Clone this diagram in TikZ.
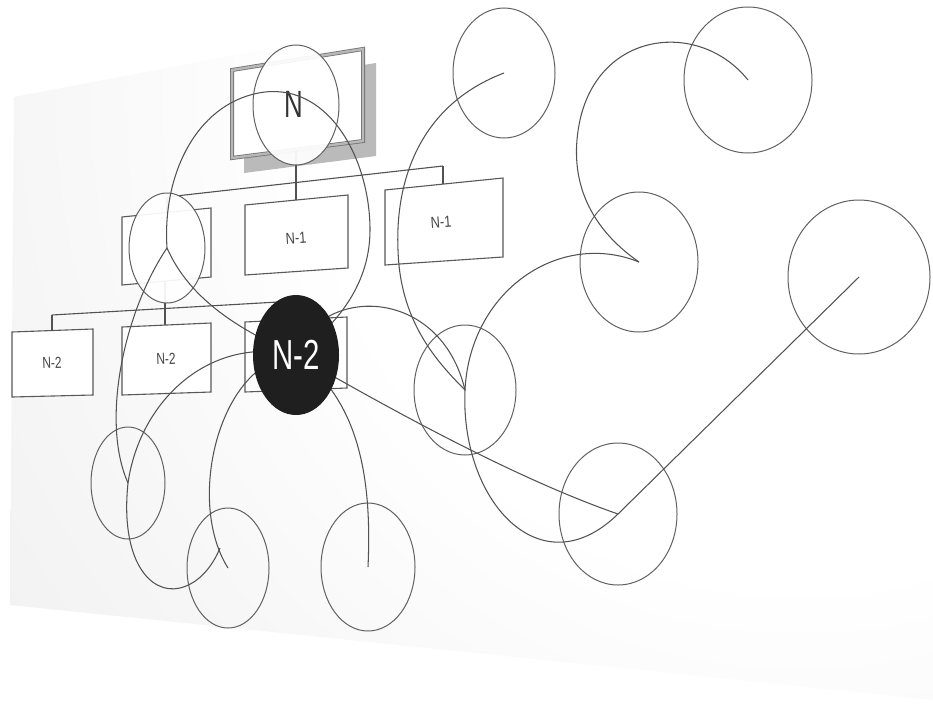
\documentclass[tikz,border=0pt]{standalone}
\usepackage{fontspec}
\setmainfont{Liberation Sans}
\usetikzlibrary{shapes.geometric}
\pgfdeclarelayer{panel}
\pgfdeclarelayer{rings}
\pgfdeclarelayer{links}
\pgfsetlayers{panel,rings,links,main}
\pgfdeclareradialshading{panelshade}{\pgfpointorigin}{color(0bp)=(white); color(12bp)=(white); color(21bp)=(black!4); color(31bp)=(black!8); color(40bp)=(black!10); color(50bp)=(black!13)}
\tikzset{
  ring/.style={ellipse, draw=black!62, line width=1pt, inner sep=0pt},
  boxline/.style={draw=black!65, line width=1.1pt, fill=white},
  bar/.style={draw=black!68, line width=1.1pt},
  link/.style={draw=black!68, line width=1.05pt},
  lbl/.style={text=black!72, font=\fontsize{16}{16}\selectfont, inner sep=0pt},
}
\begin{document}
\begin{tikzpicture}[x=1pt,y=-1pt]
\useasboundingbox (0,0) rectangle (933,704);
\begin{pgfonlayer}{panel}
\fill[white] (0,0) rectangle (933,704);
\begin{scope}
  \clip (14,97) -- (525,0) -- (933,0) -- (933,700) -- (10,605) -- cycle;
  \shade[shading=panelshade] (800,100) circle (1000pt);
\end{scope}
% top box N with shadow
\fill[black!27] (244,84) -- (376,63) -- (376,156) -- (244,173) -- cycle;
\draw[draw=black!55, double=black!28, double distance=2.4pt, line width=0.8pt, fill=white]
  (232,70) -- (363,49) -- (363,141) -- (232,158) -- cycle;
% level 1 boxes
\draw[boxline] (122,217) -- (211,208) -- (211,277) -- (122,285) -- cycle;
\draw[boxline] (245,205) -- (348,195) -- (348,268) -- (245,275) -- cycle;
\draw[boxline] (385,190) -- (503,178) -- (503,257) -- (385,265) -- cycle;
% level 2 boxes
\draw[boxline] (12,332) -- (93,329) -- (93,395) -- (12,397) -- cycle;
\draw[boxline] (122,327) -- (211,323) -- (211,392) -- (122,395) -- cycle;
\draw[boxline] (245,322) -- (347,317) -- (347,388) -- (245,392) -- cycle;
% connection points
\coordinate (nbot) at (296,150);
\coordinate (b1l) at (167,197);
\coordinate (b1r) at (443,166);
\coordinate (l1top) at (167,213);
\coordinate (m1top) at (296,200);
\coordinate (r1top) at (443,184);
\coordinate (l1bot) at (165,281);
\coordinate (b2l) at (52,315);
\coordinate (b2r) at (278,302);
\coordinate (l2top) at (52,331);
\coordinate (m2top) at (165,325);
\coordinate (r2top) at (278,320);
\draw[bar] (b1l) -- (b1r);
\draw[bar] (b1l) -- (l1top);
\draw[bar] (nbot) -- (m1top);
\draw[bar] (b1r) -- (r1top);
\draw[bar] (b2l) -- (b2r);
\draw[bar] (b2l) -- (l2top);
\draw[bar] (l1bot) -- (m2top);
\draw[bar] (b2r) -- (r2top);
% labels
\node[lbl, rotate=4] (t1a) at (296,238) {\scalebox{0.8}[1]{N-1}};
\node[lbl, rotate=4] (t1b) at (441,222) {\scalebox{0.8}[1]{N-1}};
\node[lbl, rotate=2] (t2a) at (52,363) {\scalebox{0.75}[1]{N-2}};
\node[lbl, rotate=2] (t2b) at (166,359) {\scalebox{0.75}[1]{N-2}};
\end{pgfonlayer}

\begin{pgfonlayer}{rings}
\node[ring, minimum width=86pt, minimum height=120pt, fill=white, fill opacity=0.93] (c1) at (296,105) {};
\node[text=black!80, font=\fontsize{38}{38}\selectfont, inner sep=0pt] (tn) at (294,104) {\scalebox{0.68}[1]{N}};
\node[ring, minimum width=76pt, minimum height=110pt, fill=white, fill opacity=0.93] (c2) at (167,248) {};
\node[ring, minimum width=102pt, minimum height=130pt] (c4) at (504,73) {};
\node[ring, minimum width=118pt, minimum height=140pt] (c5) at (639,262) {};
\node[ring, minimum width=128pt, minimum height=146pt] (c6) at (748,80) {};
\node[ring, minimum width=142pt, minimum height=154pt] (c7) at (859,277) {};
\node[ring, minimum width=102pt, minimum height=130pt] (c8) at (465,390) {};
\node[ring, minimum width=118pt, minimum height=142pt] (c9) at (618,514) {};
\node[ring, minimum width=94pt, minimum height=128pt] (c10) at (368,567) {};
\node[ring, minimum width=82pt, minimum height=120pt] (c11) at (228,568) {};
\node[ring, minimum width=74pt, minimum height=112pt] (c12) at (128,483) {};
\coordinate (loopend) at (220,548);
\end{pgfonlayer}

\node[ellipse, fill=black!88, minimum width=86pt, minimum height=120pt, inner sep=0pt,
      text=white, font=\fontsize{42}{42}\selectfont] (c3) at (296,355) {\scalebox{0.7}[1]{N-2}};

\begin{pgfonlayer}{links}
\draw[link] (c6.center) .. controls (700,20) and (600,30) .. (580,120)
  .. controls (565,190) and (600,235) .. (c5.center);
\draw[link] (c4.center) .. controls (420,105) and (395,180) .. (398,250)
  .. controls (400,320) and (435,360) .. (c8.center);
\draw[link] (c3.center) .. controls (320,285) and (440,285) .. (c8.center);
\draw[link] (c5.center) .. controls (560,230) and (470,290) .. (c8.center);
\draw[link] (c8.center) .. controls (460,500) and (540,590) .. (c9.center);
\draw[link] (c3.center) .. controls (400,415) and (520,480) .. (c9.center);
\draw[link] (c9.center) -- (c7.center);
\draw[link] (c3.center) .. controls (360,400) and (372,480) .. (c10.center);
\draw[link] (c3.center) .. controls (220,360) and (185,500) .. (c11.center);
\draw[link] (c3.center) .. controls (210,335) and (140,400) .. (c12.center);
\draw[link] (c12.center) .. controls (120,560) and (150,595) .. (180,588)
  .. controls (200,583) and (213,565) .. (loopend);
\draw[link] (c2.center) .. controls (125,310) and (100,420) .. (c12.center);
\draw[link] (c2.center) .. controls (190,300) and (240,330) .. (c3.center);
\draw[link] (c2.center) .. controls (162,170) and (200,100) .. (265,92)
  .. controls (330,85) and (370,160) .. (370,230)
  .. controls (370,290) and (330,330) .. (c3.center);
\end{pgfonlayer}
\end{tikzpicture}
\end{document}
